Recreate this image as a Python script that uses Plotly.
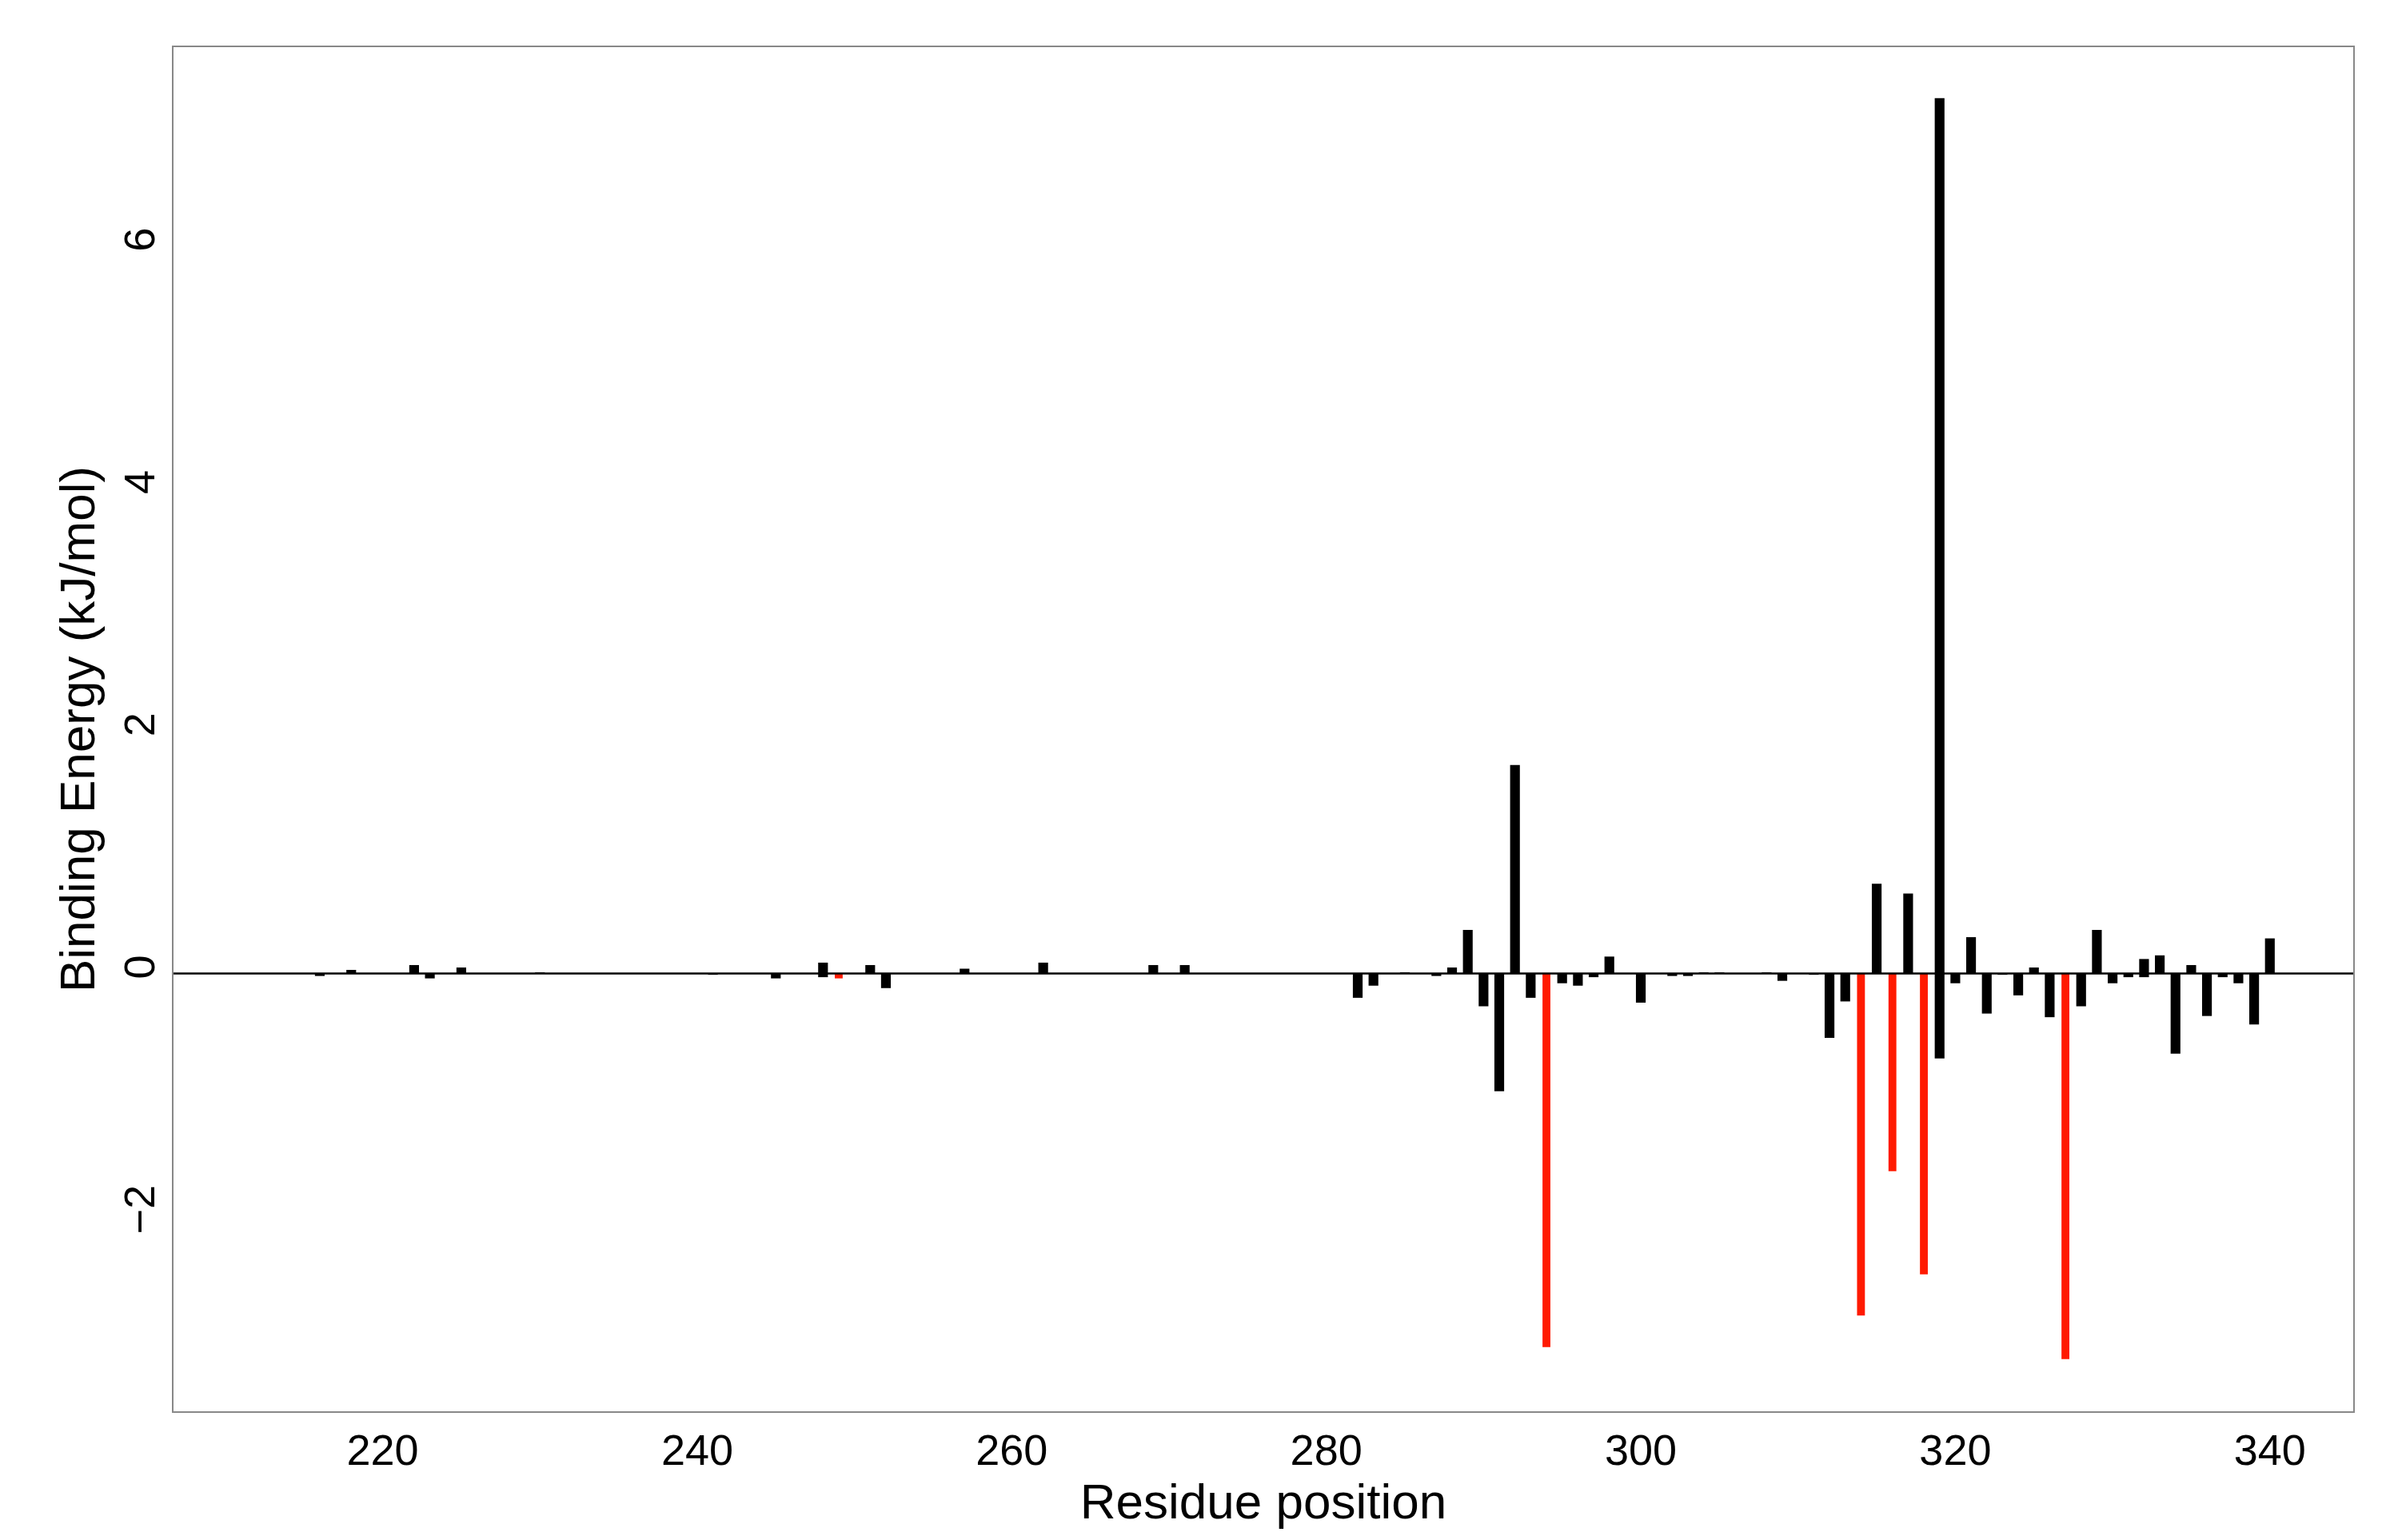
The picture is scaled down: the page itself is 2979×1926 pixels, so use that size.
import plotly.graph_objects as go

black_pos = [216,218,222,223,225,230,241,245,248,248,251,252,257,262,269,271,
             282,283,285,287,288,289,290,291,292,293,295,296,297,298,300,302,303,304,305,308,309,311,
             312,313,315,317,319,319,320,321,322,323,324,325,326,328,329,330,331,332,332,333,334,335,336,337,338,339,340]
black_val = [-0.02,0.03,0.07,-0.04,0.05,0.01,-0.01,-0.04,0.09,-0.03,0.07,-0.12,0.04,0.09,0.07,0.07,
             -0.20,-0.10,0.01,-0.02,0.05,0.36,-0.27,-0.97,1.72,-0.20,-0.08,-0.10,-0.03,0.14,-0.24,-0.02,-0.02,0.01,0.01,0.01,-0.06,-0.01,
             -0.53,-0.23,0.74,0.66,7.22,-0.70,-0.08,0.30,-0.33,-0.01,-0.18,0.05,-0.36,-0.27,0.36,-0.08,-0.03,0.12,-0.03,0.15,-0.66,0.07,-0.35,-0.03,-0.08,-0.42,0.29]
red_pos = [249,294,314,316,318,327]
red_val = [-0.04,-3.08,-2.82,-1.63,-2.48,-3.18]

fig = go.Figure()
fig.add_bar(x=black_pos, y=black_val, width=0.62, marker=dict(color="black", line_width=0))
fig.add_bar(x=red_pos, y=red_val, width=0.5, marker=dict(color="#ff1a00", line_width=0))
fig.add_hline(y=0, line=dict(color="black", width=2.5))

font = "Liberation Sans, Arial, sans-serif"
fig.update_layout(
    barmode="overlay", showlegend=False,
    width=2979, height=1926,
    margin=dict(l=209, r=44, t=51, b=169),
    plot_bgcolor="white", paper_bgcolor="white",
    font=dict(family=font, size=40, color="black"),
)
fig.update_xaxes(range=[206.7, 345.3], tickvals=[220,240,260,280,300,320,340],
                 showgrid=False, zeroline=False, showline=True, mirror=True,
                 linecolor="#888", linewidth=2, ticks="", tickfont_size=54,
                 title=dict(text="Residue position", font_size=62, standoff=0))
fig.update_yaxes(range=[-3.61, 7.64], tickvals=[-2,0,2,4,6], tickangle=-90,
                 showgrid=False, zeroline=False, showline=True, mirror=True,
                 linecolor="#888", linewidth=2, ticks="", tickfont_size=54,
                 title=dict(text="Binding Energy (kJ/mol)", font_size=62, standoff=6))
fig.write_html("out.html")
